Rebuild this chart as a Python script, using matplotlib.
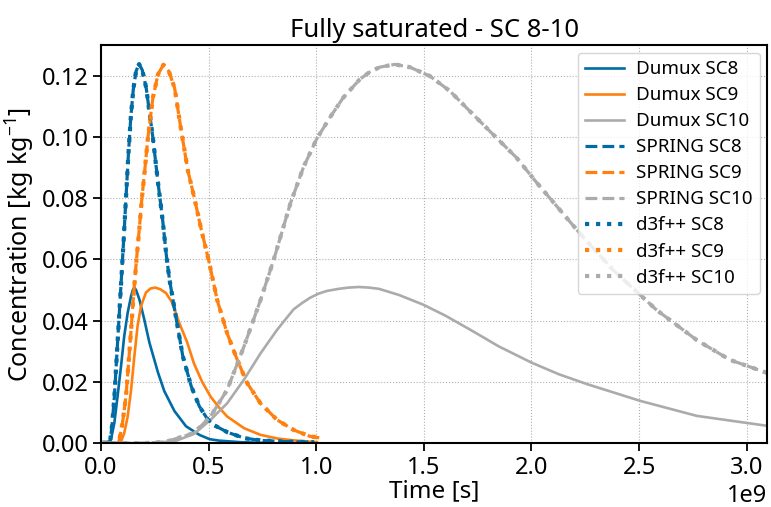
import matplotlib
matplotlib.use("Agg")
import matplotlib.pyplot as plt

plt.rcParams['font.family'] = ['Noto Sans', 'DejaVu Sans']
plt.rcParams['mathtext.fontset'] = 'custom'
plt.rcParams['mathtext.rm'] = 'Noto Sans'

# time in 1e9 s, concentration in kg/kg
dumux_sc8_t = [0.0, 0.04, 0.046, 0.062, 0.077, 0.093, 0.108, 0.124, 0.140, 0.148, 0.155, 0.163, 0.178, 0.201,
               0.225, 0.265, 0.294, 0.341, 0.395, 0.457, 0.504, 0.55, 0.65, 0.75]
dumux_sc8_c = [0.0, 0.0, 0.0011, 0.0066, 0.0153, 0.0251, 0.035, 0.0426, 0.0481, 0.0500, 0.0508, 0.0500, 0.047, 0.0404,
               0.0328, 0.023, 0.017, 0.0105, 0.0055, 0.0027, 0.0013, 0.0008, 0.0003, 0.0001]

spring_sc8_t = [0.0, 0.042, 0.051, 0.062, 0.072, 0.083, 0.094, 0.105, 0.116, 0.127, 0.138, 0.150,
                0.163, 0.177, 0.192, 0.210, 0.241, 0.264, 0.287, 0.303, 0.318, 0.350, 0.380,
                0.419, 0.457, 0.496, 0.527, 0.589, 0.667, 0.741, 0.85, 0.99]
spring_sc8_c = [0.0, 0.0005, 0.0055, 0.0150, 0.027, 0.040, 0.053, 0.066, 0.080, 0.094, 0.106, 0.1155,
                0.1215, 0.1238, 0.1218, 0.116, 0.0998, 0.0856, 0.0725, 0.0617, 0.0535, 0.0404, 0.0284,
                0.0186, 0.012, 0.0077, 0.0058, 0.0035, 0.0016, 0.0009, 0.0005, 0.0003]

d3f_sc8_t = list(spring_sc8_t)
d3f_sc8_c = list(spring_sc8_c)

dumux_sc9_t = [0.0, 0.085, 0.093, 0.108, 0.124, 0.140, 0.155, 0.170, 0.186, 0.209, 0.230, 0.253, 0.277, 0.302,
               0.33, 0.365, 0.40, 0.432, 0.47, 0.509, 0.55, 0.586, 0.664, 0.741, 0.82, 0.895, 1.003]
dumux_sc9_c = [0.0, 0.0, 0.0005, 0.0033, 0.0087, 0.0175, 0.0284, 0.0383, 0.0448, 0.0492, 0.0505, 0.0508, 0.0502, 0.049,
               0.046, 0.039, 0.033, 0.026, 0.020, 0.0152, 0.0115, 0.0087, 0.0049, 0.0027, 0.0015, 0.0009, 0.0003]

spring_sc9_t = [0.0, 0.08, 0.085, 0.100, 0.116, 0.128, 0.140, 0.152, 0.165, 0.178, 0.190, 0.203,
                0.218, 0.241, 0.265, 0.290, 0.315, 0.342, 0.373, 0.404, 0.434, 0.465, 0.5,
                0.540, 0.586, 0.633, 0.679, 0.741, 0.818, 0.895, 0.972, 1.03]
spring_sc9_c = [0.0, 0.0, 0.001, 0.0066, 0.0153, 0.0262, 0.0372, 0.049, 0.060, 0.070, 0.080, 0.0889,
                0.0998, 0.1128, 0.1205, 0.1236, 0.1215, 0.116, 0.1019, 0.0889, 0.080, 0.0700, 0.0598,
                0.0467, 0.0359, 0.0272, 0.0196, 0.013, 0.0076, 0.0043, 0.0022, 0.0016]

d3f_sc9_t = list(spring_sc9_t)
d3f_sc9_c = list(spring_sc9_c)

dumux_sc10_t = [0.0, 0.25, 0.35, 0.432, 0.509, 0.586, 0.664, 0.741, 0.818, 0.858, 0.895, 0.935, 0.972, 1.010, 1.049,
                1.105, 1.150, 1.198, 1.245, 1.291, 1.384, 1.498, 1.601, 1.724, 1.848, 2.0, 2.127, 2.257,
                2.505, 2.768, 3.1]
dumux_sc10_c = [0.0, 0.0, 0.0008, 0.003, 0.0076, 0.013, 0.0207, 0.0293, 0.037, 0.0405, 0.0437, 0.0458, 0.0475, 0.0488, 0.0497,
                0.0504, 0.0508, 0.0510, 0.0508, 0.0504, 0.0484, 0.0452, 0.0416, 0.0367, 0.0316, 0.0263, 0.0225, 0.0193,
                0.0138, 0.0089, 0.0056]

spring_sc10_t = [0.0, 0.2, 0.3, 0.432, 0.509, 0.586, 0.664, 0.741, 0.802, 0.880, 0.941, 1.003,
                 1.065, 1.125, 1.202, 1.250, 1.295, 1.365, 1.435, 1.528, 1.621, 1.714, 1.822, 1.931,
                 2.024, 2.225, 2.38, 2.581, 2.767, 2.922, 3.1]
spring_sc10_c = [0.0, 0.0, 0.0004, 0.0033, 0.0087, 0.0174, 0.0315, 0.0467, 0.0598, 0.0783, 0.0902, 0.0995,
                 0.1065, 0.1128, 0.1188, 0.1213, 0.1228, 0.1237, 0.1228, 0.1199, 0.115, 0.1084, 0.1008, 0.0932,
                 0.0851, 0.0685, 0.0565, 0.0435, 0.0337, 0.0272, 0.0228]

d3f_sc10_t = list(spring_sc10_t)
d3f_sc10_c = list(spring_sc10_c)

colors = ['#006BA4', '#FF800E', '#ABABAB']

fig = plt.figure(figsize=(7.71, 5.07), dpi=100)
ax = fig.add_axes([0.131, 0.126, 0.864, 0.785])
sc = 1e9
ax.plot([t * sc for t in dumux_sc8_t], dumux_sc8_c, '-', color=colors[0], lw=1.9, label='Dumux SC8')
ax.plot([t * sc for t in dumux_sc9_t], dumux_sc9_c, '-', color=colors[1], lw=1.9, label='Dumux SC9')
ax.plot([t * sc for t in dumux_sc10_t], dumux_sc10_c, '-', color=colors[2], lw=1.9, label='Dumux SC10')
ax.plot([t * sc for t in spring_sc8_t], spring_sc8_c, '--', color=colors[0], lw=2.3, label='SPRING SC8')
ax.plot([t * sc for t in spring_sc9_t], spring_sc9_c, '--', color=colors[1], lw=2.3, label='SPRING SC9')
ax.plot([t * sc for t in spring_sc10_t], spring_sc10_c, '--', color=colors[2], lw=2.3, label='SPRING SC10')
ax.plot([t * sc for t in d3f_sc8_t], d3f_sc8_c, ':', color=colors[0], lw=3, label='d3f++ SC8')
ax.plot([t * sc for t in d3f_sc9_t], d3f_sc9_c, ':', color=colors[1], lw=3, label='d3f++ SC9')
ax.plot([t * sc for t in d3f_sc10_t], d3f_sc10_c, ':', color=colors[2], lw=3, label='d3f++ SC10')

ax.set_xlim(0, 3.095e9)
ax.set_ylim(0, 0.13)
ax.set_yticks([0.0, 0.02, 0.04, 0.06, 0.08, 0.10, 0.12])
ax.yaxis.set_major_formatter(matplotlib.ticker.FormatStrFormatter('%.2f'))
ax.grid(True, linestyle=':', color='#b0b0b0', lw=0.8)
for s in ax.spines.values():
    s.set_linewidth(1.5)
ax.tick_params(labelsize=17, width=1.3, length=6, pad=3)
ax.xaxis.get_offset_text().set_fontsize(17)
ax.set_xlabel('Time [s]', fontsize=17.5, labelpad=0)
ax.set_ylabel('Concentration [kg kg$^{-1}$]', fontsize=18, labelpad=3)
ax.set_title('Fully saturated - SC 8-10', fontsize=18.5, pad=6)
ax.legend(loc='upper right', fontsize=13.5, handlelength=2.1, labelspacing=0.43,
          borderaxespad=0.4, handletextpad=0.6)
fig.savefig('out.png', dpi=100)
